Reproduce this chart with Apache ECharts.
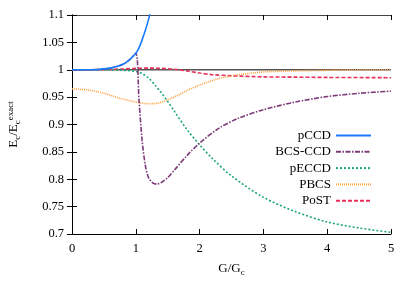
<!DOCTYPE html>
<html>
<head>
<meta charset="utf-8">
<script src="https://cdn.jsdelivr.net/npm/echarts@6/dist/echarts.min.js"></script>
<style>html,body{margin:0;padding:0;background:#fff;}#c{width:415px;height:290px;}</style>
</head>
<body>
<div id="c"></div>
<script>
// Data
const seriesNames = ['pCCD', 'BCS-CCD', 'pECCD', 'PBCS', 'PoST'];
const pCCD_x = [0, 0.2, 0.4, 0.6, 0.7, 0.8, 0.9, 1.0, 1.05, 1.1, 1.15, 1.2, 1.25];
const pCCD_y = [1.0, 1.0, 1.0005, 1.003, 1.006, 1.01, 1.018, 1.03, 1.04, 1.055, 1.072, 1.092, 1.115];
const bcs_x = [0, 0.2, 0.4, 0.6, 0.7, 0.8, 0.9, 1.0, 1.05, 1.1, 1.15, 1.2, 1.27, 1.33, 1.4, 1.5, 1.6, 1.8, 2.0, 2.3, 2.6, 3.0, 3.5, 4.0, 4.5, 5.0];
const bcs_y = [1.0, 1.0, 1.0005, 1.003, 1.006, 1.01, 1.018, 1.03, 0.945, 0.87, 0.825, 0.803, 0.793, 0.791, 0.794, 0.803, 0.816, 0.843, 0.866, 0.893, 0.911, 0.927, 0.941, 0.951, 0.957, 0.961];
const peccd_x = [0, 0.5, 0.8, 1.0, 1.1, 1.2, 1.3, 1.4, 1.5, 1.6, 1.8, 2.0, 2.2, 2.5, 3.0, 3.5, 4.0, 4.5, 5.0];
const peccd_y = [1.0, 1.0, 0.999, 0.997, 0.993, 0.985, 0.972, 0.958, 0.942, 0.925, 0.891, 0.863, 0.838, 0.806, 0.767, 0.741, 0.722, 0.711, 0.703];
const pbcs_x = [0, 0.25, 0.5, 0.75, 1.0, 1.2, 1.35, 1.5, 1.65, 1.8, 2.0, 2.25, 2.5, 2.75, 3.0, 3.5, 4.0, 4.5, 5.0];
const pbcs_y = [0.965, 0.963, 0.957, 0.948, 0.941, 0.938, 0.939, 0.945, 0.953, 0.962, 0.972, 0.982, 0.989, 0.993, 0.996, 0.998, 0.999, 1.0, 1.0];
const post_x = [0, 0.5, 0.8, 1.0, 1.2, 1.4, 1.6, 1.8, 2.0, 2.2, 2.5, 3.0, 3.5, 4.0, 5.0];
const post_y = [1.0, 1.0003, 1.0015, 1.0025, 1.003, 1.0025, 1.001, 0.998, 0.994, 0.991, 0.989, 0.987, 0.9865, 0.986, 0.9855];
const exactLevel = 1.0;
const xTicks = [0, 1, 2, 3, 4, 5];
const yTicks = ['0.7', '0.75', '0.8', '0.85', '0.9', '0.95', '1', '1.05', '1.1'];

const pairs = (xs, ys) => xs.map((x, i) => [x, ys[i]]);
const FONT = 'Liberation Serif';
const styles = [
  {color: '#1a7bff', type: 'solid'},
  {color: '#7d3a78', type: [5, 1.5, 1.5, 1.5]},
  {color: '#1fa67a', type: [2, 2]},
  {color: '#ffa040', type: [1, 1]},
  {color: '#e8305a', type: [4, 2]}
];
const dataSets = [pairs(pCCD_x, pCCD_y), pairs(bcs_x, bcs_y), pairs(peccd_x, peccd_y), pairs(pbcs_x, pbcs_y), pairs(post_x, post_y)];

const chart = echarts.init(document.getElementById('c'), null, {renderer: 'canvas'});
const baseAxisText = {fontFamily: FONT, fontSize: 12.5, color: '#000'};
const series = seriesNames.map((n, i) => ({
  name: n, type: 'line', data: dataSets[i], showSymbol: false, symbol: 'none', smooth: 0.3,
  clip: true, z: 10 - i,
  lineStyle: {color: styles[i].color, type: styles[i].type, width: 1.6},
  itemStyle: {color: styles[i].color}
}));
series.push({
  name: 'exact', type: 'line', data: [[0, exactLevel], [5, exactLevel]], showSymbol: false, symbol: 'none',
  lineStyle: {color: '#555', width: 1.6}, z: 1, silent: true
});
chart.setOption({
  animation: false,
  grid: {left: 72, right: 24, top: 15, bottom: 56, containLabel: false, outerBoundsMode: 'none'},
  legend: {
    data: seriesNames, orient: 'vertical', align: 'right', right: 38, top: 124,
    itemWidth: 35, itemHeight: 10, itemGap: 3.3,
    itemStyle: {opacity: 0},
    textStyle: {fontFamily: FONT, fontSize: 13, color: '#000', width: 70, align: 'right', lineHeight: 10}
  },
  xAxis: [{
    type: 'value', min: 0, max: 5, interval: 1,
    name: '{a|G/G}{s|c}', nameLocation: 'middle', nameGap: 27,
    nameTextStyle: {rich: {a: {fontFamily: FONT, fontSize: 13, color: '#000'}, s: {fontFamily: FONT, fontSize: 9, color: '#000', padding: [7, 0, 0, 0]}}},
    axisLine: {lineStyle: {color: '#000', width: 1}},
    axisTick: {inside: true, length: 5, lineStyle: {color: '#000'}},
    axisLabel: Object.assign({margin: 8, formatter: v => xTicks.includes(v) ? String(v) : ''}, baseAxisText),
    splitLine: {show: false}
  }, {
    type: 'value', min: 0, max: 5, interval: 1, position: 'top',
    axisLine: {show: true, lineStyle: {color: '#444', width: 1}},
    axisTick: {inside: true, length: 5, lineStyle: {color: '#000'}},
    axisLabel: {show: false}, splitLine: {show: false}
  }],
  yAxis: [{
    type: 'value', min: 0.7, max: 1.1, interval: 0.05,
    name: '{a|E}{s|c}{a|/E}{s|c}{p|exact}', nameLocation: 'middle', nameGap: 50,
    nameTextStyle: {rich: {
      a: {fontFamily: FONT, fontSize: 13, color: '#000'},
      s: {fontFamily: FONT, fontSize: 9, color: '#000', padding: [7, 0, 0, 0]},
      p: {fontFamily: FONT, fontSize: 9, color: '#000', padding: [0, 0, 7, 0]}
    }},
    axisLine: {show: true, lineStyle: {color: '#000', width: 1}},
    axisTick: {inside: true, length: 5, lineStyle: {color: '#000'}},
    axisLabel: Object.assign({margin: 8, formatter: v => {
      const s = String(parseFloat(v.toFixed(2)));
      return yTicks.includes(s) ? s : '';
    }}, baseAxisText),
    splitLine: {show: false}
  }, {
    type: 'value', min: 0.7, max: 1.1, interval: 0.05, position: 'right',
    axisLine: {show: true, lineStyle: {color: '#000', width: 1}},
    axisTick: {inside: true, length: 5, lineStyle: {color: '#000'}},
    axisLabel: {show: false}, splitLine: {show: false}
  }],
  series: series
});
</script>
</body>
</html>
